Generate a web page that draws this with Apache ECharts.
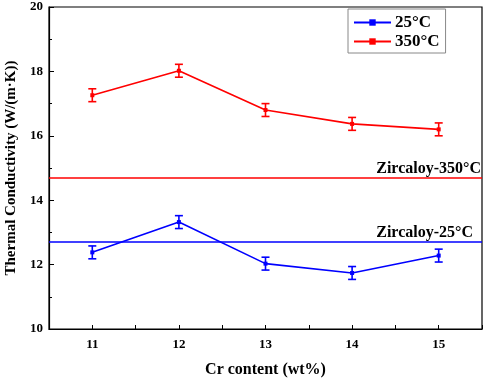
<!DOCTYPE html>
<html>
<head>
<meta charset="utf-8">
<script src="https://cdn.jsdelivr.net/npm/echarts@6/dist/echarts.min.js"></script>
<style>
html, body { margin: 0; padding: 0; background: #fff; }
#chart { width: 484px; height: 378px; }
</style>
</head>
<body>
<div id="chart"></div>
<script>
// Cr content (wt%)
var crContent = [11, 12, 13, 14, 15];
// thermal conductivity, W/(m·K)
var k25 = [12.38, 13.32, 12.03, 11.74, 12.28];
var k350 = [17.26, 18.02, 16.80, 16.37, 16.20];
var err25 = [0.2, 0.2, 0.2, 0.2, 0.2];
var err350 = [0.2, 0.2, 0.2, 0.2, 0.2];
var zircaloy25 = 12.7;
var zircaloy350 = 14.7;

var FONT = 'Liberation Serif';

function pairs(ys) {
  return crContent.map(function (x, i) { return [x, ys[i]]; });
}
function errData(ys, errs) {
  return crContent.map(function (x, i) { return [x, ys[i] - errs[i], ys[i] + errs[i]]; });
}
// 误差棒
function errorBar(color) {
  return function (params, api) {
    var lo = api.coord([api.value(0), api.value(1)]);
    var hi = api.coord([api.value(0), api.value(2)]);
    var w = 4;
    var style = { stroke: color, lineWidth: 1.6 };
    return {
      type: 'group',
      children: [
        { type: 'line', shape: { x1: lo[0], y1: lo[1], x2: hi[0], y2: hi[1] }, style: style },
        { type: 'line', shape: { x1: lo[0] - w, y1: lo[1], x2: lo[0] + w, y2: lo[1] }, style: style },
        { type: 'line', shape: { x1: hi[0] - w, y1: hi[1], x2: hi[0] + w, y2: hi[1] }, style: style }
      ]
    };
  };
}

var chart = echarts.init(document.getElementById('chart'));
chart.setOption({
  backgroundColor: '#fff',
  animation: false,
  grid: {
    left: 49, right: 2, top: 7, bottom: 49,
    outerBoundsMode: 'none', containLabel: false,
    show: true, borderColor: '#000', borderWidth: 1.2
  },
  legend: {
    orient: 'vertical',
    left: 348,
    top: 9,
    padding: [5, 6, 3, 5],
    itemGap: 2,
    itemWidth: 37,
    itemHeight: 8,
    borderColor: '#888',
    borderWidth: 1,
    textStyle: { fontFamily: FONT, fontWeight: 'bold', fontSize: 17, color: '#000', padding: [0, 0, 0, -1] },
    data: ['25°C', '350°C']
  },
  xAxis: {
    type: 'value',
    min: 10.5, max: 15.5, interval: 0.5,
    axisLine: { onZero: false, lineStyle: { color: '#000', width: 1.2 } },
    axisTick: { inside: true, length: 4, lineStyle: { color: '#000' } },
    splitLine: { show: false },
    axisLabel: {
      fontFamily: FONT, fontWeight: 'bold', fontSize: 13, color: '#000', margin: 9,
      formatter: function (v) { return Math.abs(v - Math.round(v)) < 1e-6 ? String(Math.round(v)) : ''; }
    },
    name: 'Cr content (wt%)',
    nameLocation: 'middle',
    nameGap: 33,
    nameTextStyle: { fontFamily: FONT, fontWeight: 'bold', fontSize: 16, color: '#000' }
  },
  yAxis: {
    type: 'value',
    min: 10, max: 20, interval: 2,
    axisLine: { show: true, lineStyle: { color: '#000', width: 1.2 } },
    axisTick: { inside: true, length: 5, lineStyle: { color: '#000' } },
    minorTick: { show: true, splitNumber: 2, length: 3, lineStyle: { color: '#000' } },
    splitLine: { show: false },
    axisLabel: { fontFamily: FONT, fontWeight: 'bold', fontSize: 13, color: '#000', margin: 6 },
    name: 'Thermal Conductivity (W/(m·K))',
    nameLocation: 'middle',
    nameGap: 30,
    nameTextStyle: { fontFamily: FONT, fontWeight: 'bold', fontSize: 15, color: '#000' }
  },
  series: [
    {
      name: '25°C',
      type: 'line',
      data: pairs(k25),
      symbol: 'rect', symbolSize: 4,
      itemStyle: { color: '#0000ff' },
      lineStyle: { color: '#0000ff', width: 1.6 },
      z: 3,
      markLine: {
        silent: true, symbol: 'none',
        lineStyle: { color: '#0000ff', width: 1.6, type: 'solid' },
        label: {
          position: 'insideEndTop', distance: [9, 1], formatter: 'Zircaloy-25°C',
          fontFamily: FONT, fontWeight: 'bold', fontSize: 16, color: '#000'
        },
        data: [{ yAxis: zircaloy25 }]
      }
    },
    {
      name: '350°C',
      type: 'line',
      data: pairs(k350),
      symbol: 'rect', symbolSize: 4,
      itemStyle: { color: '#ff0000' },
      lineStyle: { color: '#ff0000', width: 1.6 },
      z: 3,
      markLine: {
        silent: true, symbol: 'none',
        lineStyle: { color: '#ff0000', width: 1.6, type: 'solid' },
        label: {
          position: 'insideEndTop', distance: [1, 1], formatter: 'Zircaloy-350°C',
          fontFamily: FONT, fontWeight: 'bold', fontSize: 16, color: '#000'
        },
        data: [{ yAxis: zircaloy350 }]
      }
    },
    {
      type: 'custom',
      renderItem: errorBar('#0000ff'),
      data: errData(k25, err25),
      encode: { x: 0, y: [1, 2] },
      z: 4
    },
    {
      type: 'custom',
      renderItem: errorBar('#ff0000'),
      data: errData(k350, err350),
      encode: { x: 0, y: [1, 2] },
      z: 4
    }
  ]
});
</script>
</body>
</html>
